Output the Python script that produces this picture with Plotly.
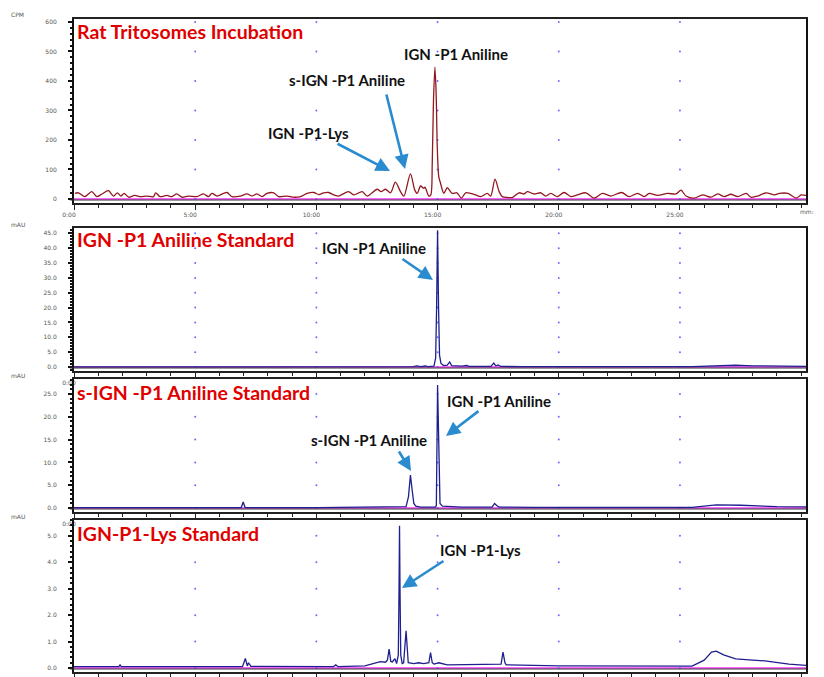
import plotly.graph_objects as go

# the page places the figure 8 px from the window's top-left corner
OFF = 8
W, H = 824 - OFF, 677 - OFF

# ---------------- data ----------------
# Panel 1: Rat tritosomes incubation (radio trace, CPM)
rat_time = [0.04, 0.18, 0.45, 0.73, 0.94, 1.14, 1.42, 1.63, 1.79, 1.93, 2.07, 2.25, 2.5, 2.75, 3.0,
            3.28, 3.37, 3.55, 3.83, 4.04, 4.24, 4.45, 4.72, 5.07, 5.34, 5.55, 5.69, 5.9, 6.17, 6.31,
            6.52, 6.86, 7.14, 7.34, 7.55, 7.76, 7.96, 8.24, 8.44, 8.79, 9.06, 9.34, 9.62, 9.89, 10.1,
            10.3, 10.51, 10.72, 10.92, 11.33, 11.54, 11.89, 12.1, 12.51, 12.67, 12.85, 13.06, 13.26,
            13.47, 13.61, 13.88, 14.06, 14.16, 14.3, 14.43, 14.48, 14.64, 14.72, 14.78, 14.83, 14.89,
            14.94, 14.99, 15.05, 15.12, 15.26, 15.4, 15.6, 15.8, 15.98, 16.16, 16.36, 16.57, 16.78,
            17.05, 17.19, 17.37, 17.54, 17.67, 17.88, 18.08, 18.36, 18.57, 18.7, 18.98, 19.26, 19.46,
            19.67, 19.94, 20.22, 20.5, 20.77, 21.12, 21.46, 21.8, 22.15, 22.59, 22.9, 23.25, 23.53,
            23.73, 24.08, 24.49, 24.84, 25.04, 25.25, 25.59, 25.94, 26.28, 26.56, 26.83, 27.1, 27.38,
            27.73, 27.93, 28.21, 28.55, 28.9, 29.1, 29.45, 29.8, 30.0, 30.2]
rat_cpm = [19, 21, 8, 25, 8, 16, 28, 10, 21, 10, 19, 6, 12, 8, 10,
           8, 21, 8, 12, 8, 17, 6, 10, 8, 17, 8, 19, 10, 19, 22,
           8, 10, 17, 10, 17, 8, 19, 21, 8, 10, 6, 8, 19, 22, 15,
           21, 22, 14, 10, 25, 14, 25, 10, 33, 25, 33, 21, 57,
           25, 10, 85, 30, 19, 44, 36, 40, 10, 14, 120, 330, 447,
           360, 170, 75, 54, 19, 38, 19, 21, 3, 21, 19, 14, 8,
           19, 10, 67, 25, 8, 5, 5, 21, 17, 25, 17, 21, 10,
           19, 8, 22, 8, 14, 21, 3, 19, 10, 22, 8, 19, 8,
           19, 12, 19, 17, 30, 10, 3, 14, 6, 17, 8, 16, 8,
           19, 6, 10, 21, 14, 19, 19, 3, 14, 12]

# Panel 2: IGN-P1 Aniline standard (UV, mAU)
std1_time = [0.0, 6.85, 6.93, 7.0, 10.0, 11.5, 12.6, 14.0, 14.15, 14.3, 14.5, 14.6, 14.85, 14.92,
             14.96, 15.0, 15.04, 15.08, 15.14, 15.25, 15.4, 15.5, 15.58, 15.8, 16.0, 16.2, 16.3,
             17.2, 17.32, 17.4, 17.5, 17.6, 18.5, 25.5, 26.0, 26.5, 27.3, 28.0, 29.0, 30.2]
std1_mau = [0.05, 0.05, 0.3, 0.05, 0.1, 0.2, 0.2, 0.1, 0.35, 0.15, 0.35, 0.15, 0.3, 3.0,
            20.0, 46.0, 20.0, 4.0, 1.2, 0.5, 0.6, 1.7, 0.5, 0.3, 0.3, 0.5, 0.2,
            0.2, 1.3, 0.4, 0.7, 0.2, 0.15, 0.15, 0.3, 0.6, 0.6, 0.4, 0.25, 0.2]

# Panel 3: s-IGN-P1 Aniline standard (UV, mAU)
std2_time = [0.0, 6.9, 6.98, 7.06, 10.0, 12.5, 13.7, 13.8, 13.88, 13.95, 14.02, 14.1, 14.3, 14.9,
             14.95, 15.0, 15.06, 15.1, 15.2, 15.5, 16.0, 17.25, 17.35, 17.45, 17.55, 19.0, 25.5,
             26.0, 26.5, 27.5, 29.0, 30.2]
std2_mau = [0.1, 0.1, 1.3, 0.1, 0.1, 0.15, 0.3, 2.5, 7.2, 4.0, 1.0, 0.4, 0.2, 0.2,
            0.5, 27.0, 5.0, 1.0, 0.4, 0.3, 0.2, 0.2, 1.0, 0.5, 0.2, 0.15, 0.15,
            0.4, 0.7, 0.6, 0.3, 0.25]

# Panel 4: IGN-P1-Lys standard (UV, mAU)
std3_time = [0.0, 1.85, 1.9, 1.95, 6.95, 7.07, 7.15, 7.2, 7.3, 10.7, 10.8, 10.9, 12.0, 12.64,
             12.85, 12.93, 13.0, 13.07, 13.13, 13.24, 13.31, 13.38, 13.41, 13.43, 13.45, 13.48,
             13.54, 13.6, 13.7, 13.79, 14.02, 14.22, 14.43, 14.64, 14.71, 14.78, 14.85, 15.05, 15.4,
             16.64, 17.62, 17.7, 17.78, 17.83, 20.0, 25.5, 26.0, 26.3, 26.5, 26.8, 27.3, 28.0, 28.5,
             29.5, 30.2]
std3_mau = [0.05, 0.05, 0.12, 0.05, 0.05, 0.36, 0.08, 0.2, 0.06, 0.05, 0.12, 0.05, 0.08, 0.24,
            0.22, 0.3, 0.72, 0.25, 0.23, 0.35, 0.17, 0.5, 3.0, 5.38, 3.0, 0.5,
            0.17, 0.2, 1.41, 0.2, 0.17, 0.2, 0.17, 0.2, 0.58, 0.2, 0.15, 0.2, 0.12,
            0.15, 0.15, 0.6, 0.2, 0.12, 0.08, 0.07, 0.3, 0.6, 0.64, 0.5, 0.35, 0.3, 0.27,
            0.15, 0.1]

x_tick_vals = [0, 5, 10, 15, 20, 25]
x_tick_texts = [["0:00", "5:00", "10:00", "15:00", "20:00", "25:00"],
                ["0:00", "", "", "", "", ""],
                ["0:00", "", "", "", "", ""],
                ["", "", "", "", "", ""]]

y_ticks = [
    ([0, 100, 200, 300, 400, 500, 600], ["0", "100", "200", "300", "400", "500", "600"]),
    ([0, 5, 10, 15, 20, 25, 30, 35, 40, 45],
     ["0.0", "5.0", "10.0", "15.0", "20.0", "25.0", "30.0", "35.0", "40.0", "45.0"]),
    ([0, 5, 10, 15, 20, 25], ["0.0", "5.0", "10.0", "15.0", "20.0", "25.0"]),
    ([0, 1, 2, 3, 4, 5], ["0.0", "1.0", "2.0", "3.0", "4.0", "5.0"]),
]
y_minor = [20, 1, 1, 0.2]
y_units = ["CPM", "mAU", "mAU", "mAU"]

panel_titles = ["Rat Tritosomes Incubation", "IGN -P1 Aniline Standard",
                "s-IGN -P1 Aniline Standard", "IGN-P1-Lys Standard"]

# ---------------- layout geometry (window pixels) ----------------
def py(p):
    return 1 - (p - OFF) / H

def px(p):
    return (p - OFF) / W

panels = [  # (top px, bottom px, y range)
    (19, 203, [-13.6, 610]),
    (228, 371, [-1.34, 46.8]),
    (379, 512, [-0.88, 28.3]),
    (520, 672, [-0.15, 5.6]),
]
x_dom = [px(74), px(806)]
x_range = [0, 30.2]

series = [(rat_time, rat_cpm, "#921820", "spline"),
          (std1_time, std1_mau, "#1f1f8f", "linear"),
          (std2_time, std2_mau, "#1f1f8f", "linear"),
          (std3_time, std3_mau, "#1f1f8f", "linear")]

fig = go.Figure()
layout = dict(width=W, height=H, margin=dict(l=0, r=0, t=0, b=0, pad=0),
              paper_bgcolor="white", plot_bgcolor="white", showlegend=False)
shapes = []
annotations = []

for i, (top, bot, yr) in enumerate(panels):
    n = "" if i == 0 else str(i + 1)
    xa, ya = "x" + n, "y" + n
    t, v, col, shape = series[i]
    # magenta baseline at y = 0
    fig.add_trace(go.Scatter(x=x_range, y=[0, 0], xaxis=xa, yaxis=ya, mode="lines",
                             line=dict(color="#ff33ff", width=1.6), hoverinfo="skip"))
    # dotted grid (blue dots at major ticks)
    gx, gy = [], []
    for xv in [5, 10, 15, 20, 25]:
        for yv in y_ticks[i][0]:
            gx.append(xv)
            gy.append(yv)
    fig.add_trace(go.Scatter(x=gx, y=gy, xaxis=xa, yaxis=ya, mode="markers",
                             marker=dict(color="#6b6bff", size=2), hoverinfo="skip"))
    line = dict(color=col, width=1.3, shape=shape)
    if shape == "spline":
        line["smoothing"] = 0.8
    fig.add_trace(go.Scatter(x=t, y=v, xaxis=xa, yaxis=ya, mode="lines", line=line))
    layout["xaxis" + n] = dict(
        domain=x_dom, range=x_range, anchor=ya, showgrid=False, zeroline=False,
        automargin=False,
        showline=True, linecolor="#222", linewidth=2, mirror=True,
        ticks="outside", ticklen=5, tickcolor="#222", tickwidth=1,
        tickvals=x_tick_vals, ticktext=x_tick_texts[i], ticklabelshift=-5,
        tickfont=dict(family="DejaVu Sans", size=6, color="#555"),
        minor=dict(dtick=1, ticklen=3, tickcolor="#222", ticks="outside"),
    )
    layout["yaxis" + n] = dict(
        domain=[py(bot), py(top)], range=yr, anchor=xa, showgrid=False, zeroline=False,
        automargin=False,
        showline=True, linecolor="#111", linewidth=2, mirror=True,
        ticks="outside", ticklen=4, tickcolor="#111", tickwidth=1.5,
        tickvals=y_ticks[i][0], ticktext=y_ticks[i][1], ticklabelstandoff=10,
        tickfont=dict(family="DejaVu Sans", size=6, color="#555"),
        minor=dict(dtick=y_minor[i], ticklen=2, tickcolor="#111", ticks="outside"),
    )
    # second (double) bottom line
    shapes.append(dict(type="line", xref="paper", yref="paper", x0=px(70), x1=px(806),
                       y0=py(bot - 3), y1=py(bot - 3), line=dict(color="#333", width=1)))
    # unit label
    annotations.append(dict(text=y_units[i], xref="paper", yref="paper", x=px(9),
                            y=py(top - 4), xanchor="left", yanchor="middle", showarrow=False,
                            font=dict(family="DejaVu Sans", size=6, color="#555")))
    # red panel title
    annotations.append(dict(text="<b>" + panel_titles[i] + "</b>", xref="paper", yref="paper",
                            x=px(76), y=py([31, 240, 392, 533][i]), xanchor="left",
                            yanchor="middle", showarrow=False, borderpad=0,
                            font=dict(family="Lato", size=19.5, color="#e00000")))

annotations.append(dict(text="mm:", xref="paper", yref="paper", x=px(816), y=py(211),
                        xanchor="right", yanchor="middle", showarrow=False,
                        font=dict(family="DejaVu Sans", size=6, color="#555")))

# black peak labels (center px, center py)
labels = [("IGN -P1 Aniline", 456, 54), ("s-IGN -P1 Aniline", 347, 80), ("IGN -P1-Lys", 308, 133),
          ("IGN -P1 Aniline", 374, 248), ("IGN -P1 Aniline", 499, 401),
          ("s-IGN -P1 Aniline", 369, 440), ("IGN -P1-Lys", 480, 550)]
for txt, cx, cy in labels:
    annotations.append(dict(text="<b>" + txt + "</b>", xref="paper", yref="paper",
                            x=px(cx), y=py(cy), xanchor="center", yanchor="middle",
                            showarrow=False, font=dict(family="Lato", size=15, color="#111")))

# blue arrows: (tail px, tail py, head px, head py)
arrows = [(336, 143, 390, 171), (386, 93, 405, 169), (401, 258, 433, 280),
          (480, 410, 446, 436), (398, 450, 411, 471), (445, 560, 402, 588)]
for tx, ty, hx, hy in arrows:
    annotations.append(dict(text="", xref="paper", yref="paper", x=px(hx), y=py(hy),
                            axref="pixel", ayref="pixel", ax=tx - hx, ay=ty - hy,
                            showarrow=True, arrowhead=2, arrowsize=1.1, arrowwidth=2.6,
                            arrowcolor="#2a8bcf"))

layout["shapes"] = shapes
layout["annotations"] = annotations
fig.update_layout(**layout)
fig.write_html("out.html")
